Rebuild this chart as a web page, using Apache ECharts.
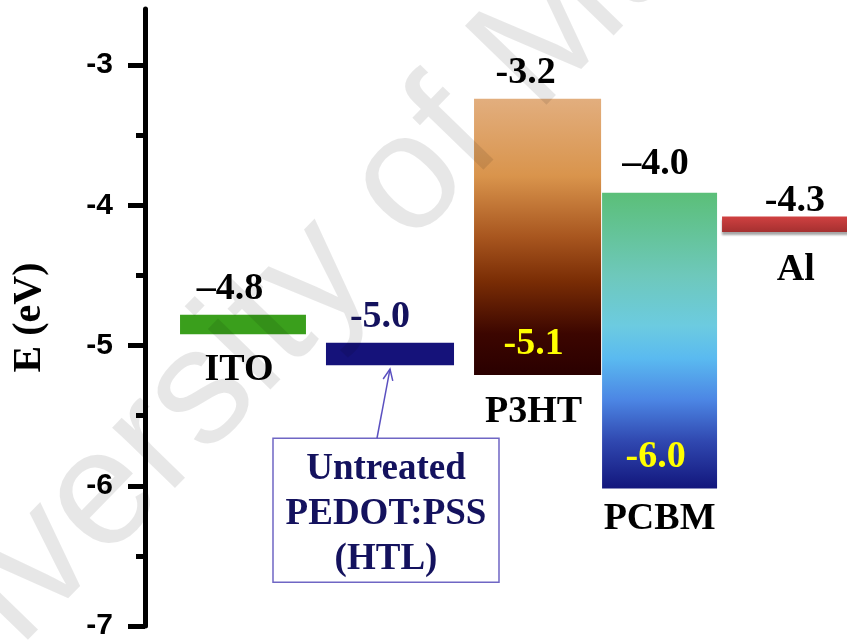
<!DOCTYPE html>
<html><head><meta charset="utf-8">
<script src="https://cdn.jsdelivr.net/npm/echarts@6/dist/echarts.min.js"></script>
<style>html,body{margin:0;padding:0;background:#fff}#main{width:847px;height:641px}</style>
</head><body><div id="main"></div>
<script>
// ---- data ----
const layers = ['ITO', 'PEDOT:PSS', 'P3HT', 'PCBM', 'Al'];
const levelTop = [-4.78, -4.98, -3.24, -3.91, -4.08];      // drawn top edge (eV)
const levelBottom = [-4.92, -5.14, -5.21, -6.02, -4.19];   // drawn bottom edge (eV)
const upperLabels = ['\u20134.8', '-5.0', '-3.2', '\u20134.0', '-4.3'];
const lowerLabels = ['', '', '-5.1', '-6.0', ''];
const nameLabels = ['ITO', '', 'P3HT', 'PCBM', 'Al'];
const noteLabels = ['', 'Untreated\nPEDOT:PSS\n(HTL)', '', '', ''];
const yTickValues = [-7, -6, -5, -4, -3];
const yMinorTickValues = [-6.5, -5.5, -4.5, -3.5];
const yTitle = 'E (eV)';
const watermarkText = 'University of Malaya';

// ---- layout / style ----
const barOffset = [0.198, 0.245, 0.296, 0.165, 0.10];   // fraction of category band
const barWidthFrac = [0.897, 0.912, 0.905, 0.819, 0.98];
const upperShift = [-13, -10, -12, -4, 4];
const lowerShift = [0, 0, -4, -4, 0];
const nameShift = [-4, 0, -4, 0, 5];
const upperGap = [26, 26, 26, 29, 15];
const nameGap = [36, 0, 37, 31, 38];
const G = echarts.graphic;
const fills = [
  '#3a9f1c',
  '#15127a',
  new G.LinearGradient(0, 0, 0, 1, [
    {offset: 0, color: '#e2ae7e'}, {offset: 0.28, color: '#d9944c'},
    {offset: 0.5, color: '#a8561f'}, {offset: 0.66, color: '#7a2d05'},
    {offset: 0.85, color: '#3c0600'}, {offset: 1, color: '#2a0000'}]),
  new G.LinearGradient(0, 0, 0, 1, [
    {offset: 0, color: '#5bbf78'}, {offset: 0.28, color: '#6ec8bb'},
    {offset: 0.45, color: '#6ccbe0'}, {offset: 0.56, color: '#5abaf0'},
    {offset: 0.7, color: '#4c86e4'}, {offset: 0.84, color: '#3048b0'},
    {offset: 1, color: '#12167c'}]),
  new G.LinearGradient(0, 0, 0, 1, [
    {offset: 0, color: '#d04141'}, {offset: 1, color: '#a53030'}])
];
const upperColors = ['#000', '#14125e', '#000', '#000', '#000'];
const serifBold = 'bold 38px "Liberation Serif", "Times New Roman", serif';

function txt(t, x, y, color, font) {
  return {type: 'text', x: x, y: y, z2: 10,
    style: {text: t, fill: color, font: font || serifBold, align: 'center', verticalAlign: 'middle'}};
}

function renderItem(params, api) {
  const i = params.dataIndex;
  const pTop = api.coord([i, api.value(1)]);
  const pBot = api.coord([i, api.value(2)]);
  const band = api.size([1, 0])[0];
  const cx = pTop[0] + barOffset[i] * band;
  const w = barWidthFrac[i] * band;
  const children = [];
  const rectStyle = {fill: fills[i]};
  if (i === 4) { rectStyle.shadowColor = 'rgba(0,0,0,0.35)'; rectStyle.shadowOffsetY = 3; rectStyle.shadowBlur = 2; }
  children.push({type: 'rect', shape: {x: cx - w / 2, y: pTop[1], width: w, height: pBot[1] - pTop[1]}, style: rectStyle});
  if (upperLabels[i]) children.push(txt(upperLabels[i], cx + upperShift[i], pTop[1] - upperGap[i], upperColors[i]));
  if (lowerLabels[i]) children.push(txt(lowerLabels[i], cx + lowerShift[i], pBot[1] - 31, '#ffff00'));
  if (nameLabels[i]) children.push(txt(nameLabels[i], cx + nameShift[i], pBot[1] + nameGap[i], '#000'));
  if (noteLabels[i]) {
    const bw = 226, bh = 144;
    const bx = cx - 4 - bw / 2, by = pBot[1] + 73;
    children.push({type: 'rect', shape: {x: bx, y: by, width: bw, height: bh},
      style: {fill: 'none', stroke: '#6f66c4', lineWidth: 1.5}});
    children.push({type: 'text', x: cx - 4, y: by + bh / 2 + 4, z2: 10,
      style: {text: noteLabels[i], fill: '#14125e', font: 'bold 37px "Liberation Serif", serif',
        align: 'center', verticalAlign: 'middle', lineHeight: 45}});
    const x0 = cx - 13, y0 = by, x1 = cx, y1 = pBot[1] + 4;
    const ang = Math.atan2(y1 - y0, x1 - x0);
    const ah = 12, spread = 0.42;
    const lineStyle = {stroke: '#5a50c0', lineWidth: 1.5};
    children.push({type: 'line', shape: {x1: x0, y1: y0, x2: x1, y2: y1}, style: lineStyle});
    children.push({type: 'polyline', shape: {points: [
      [x1 - ah * Math.cos(ang - spread), y1 - ah * Math.sin(ang - spread)],
      [x1, y1],
      [x1 - ah * Math.cos(ang + spread), y1 - ah * Math.sin(ang + spread)]]},
      style: {stroke: '#5a50c0', lineWidth: 1.5, fill: 'none'}});
  }
  return {type: 'group', children: children};
}

const chart = echarts.init(document.getElementById('main'), null, {renderer: 'canvas'});
chart.setOption({
  animation: false,
  backgroundColor: '#fff',
  grid: {left: 145, right: 0, top: 9, bottom: 11, containLabel: false},
  xAxis: {type: 'category', data: layers, show: false},
  yAxis: [{
    type: 'value', min: -7, max: -2.6, position: 'left',
    name: yTitle, nameLocation: 'middle', nameGap: 95,
    nameTextStyle: {fontFamily: '"Liberation Serif", serif', fontWeight: 'bold', fontSize: 40, color: '#000'},
    axisLine: {show: true, lineStyle: {color: '#000', width: 5}},
    axisTick: {show: true, customValues: yTickValues, length: 17, lineStyle: {color: '#000', width: 5}},
    axisLabel: {show: true, customValues: yTickValues, margin: 32, color: '#000',
      fontFamily: '"Liberation Sans", Arial, sans-serif', fontWeight: 'bold', fontSize: 30},
    splitLine: {show: false}
  }, {
    type: 'value', min: -7, max: -2.6, position: 'left',
    axisLine: {show: false},
    axisTick: {show: true, customValues: yMinorTickValues, length: 9, lineStyle: {color: '#000', width: 5}},
    axisLabel: {show: false},
    splitLine: {show: false}
  }],
  series: [{
    type: 'custom',
    yAxisIndex: 0,
    renderItem: renderItem,
    clip: false,
    encode: {x: 0, y: [1, 2]},
    data: layers.map((n, i) => [i, levelTop[i], levelBottom[i]])
  }],
  graphic: [{
    type: 'text', x: -100, y: 825, rotation: Math.PI * 0.255, z: 100, silent: true,
    style: {text: watermarkText, fill: 'rgba(0,0,0,0.095)', font: '165px "Liberation Sans", Arial, sans-serif',
      align: 'left', verticalAlign: 'bottom'}
  }]
});
</script>
</body></html>
